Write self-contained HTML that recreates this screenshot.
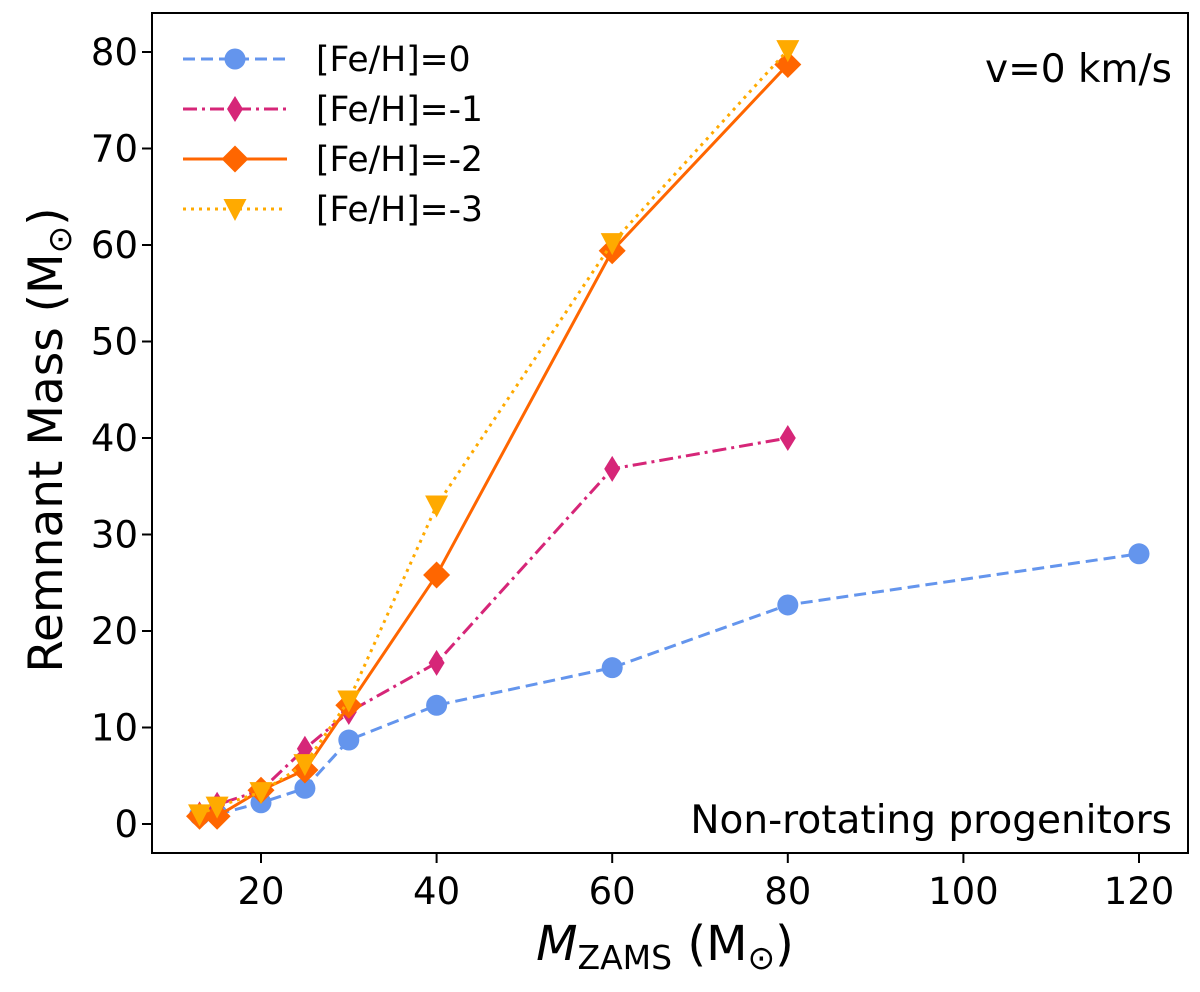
<!DOCTYPE html>
<html><head><meta charset="utf-8"><style>body{margin:0;background:#fff}svg{display:block;font-family:"DejaVu Sans","Liberation Sans",sans-serif}</style></head>
<body>
<svg id="chart" width="1200" height="992"></svg>
<script>
const massesFull=[13,15,20,25,30,40,60,80,120];
const masses80=[13,15,20,25,30,40,60,80];
const fe0=[0.9,1.0,2.2,3.7,8.7,12.3,16.2,22.7,28.0];
const fe1=[1.0,2.0,3.5,7.8,11.6,16.7,36.8,40.0];
const fe2=[0.8,0.8,3.5,5.6,12.3,25.8,59.4,78.7];
const fe3=[1.0,1.8,3.3,6.2,12.8,33.0,60.2,80.2];
const xTicks=[20,40,60,80,100,120];
const yTicks=[0,10,20,30,40,50,60,70,80];
const NS='http://www.w3.org/2000/svg';
const svg=document.getElementById('chart');
const L=152,R=1188,T=13,B=853;
const X=v=>261+(v-20)*8.78;
const Y=v=>824-v*9.65;
function mk(tag,at,parent){const e=document.createElementNS(NS,tag);for(const k in at)e.setAttribute(k,at[k]);(parent||svg).appendChild(e);return e;}
xTicks.forEach(t=>{const g=mk('g',{});


mk('line',{x1:X(t),x2:X(t),y1:B,y2:B+10,stroke:'#000','stroke-width':2},g);
const tx=mk('text',{x:X(t),y:B+51,'text-anchor':'middle','font-size':37},g);tx.textContent=t;});
yTicks.forEach(t=>{const g=mk('g',{});


mk('line',{x1:L-10,x2:L,y1:Y(t),y2:Y(t),stroke:'#000','stroke-width':2},g);
const tx=mk('text',{x:L-14,y:Y(t)+13,'text-anchor':'end','font-size':37},g);tx.textContent=t;});
function marker(type,x,y,c,g){
 if(type==='circle')return mk('circle',{cx:x,cy:y,r:10.5,fill:c},g);
 if(type==='thin')return mk('polygon',{points:`${x},${y-13} ${x+8},${y} ${x},${y+13} ${x-8},${y}`,fill:c},g);
 if(type==='diamond')return mk('polygon',{points:`${x},${y-13.5} ${x+13.5},${y} ${x},${y+13.5} ${x-13.5},${y}`,fill:c},g);
 return mk('polygon',{points:`${x-11.5},${y-10} ${x+11.5},${y-10} ${x},${y+12}`,fill:c},g);
}
const series=[
 {name:'fe0',xs:massesFull,ys:fe0,c:'#6495ed',dash:'12,6',m:'circle',label:'[Fe/H]=0'},
 {name:'fe-1',xs:masses80,ys:fe1,c:'#d62678',dash:'14,5,3,5',m:'thin',label:'[Fe/H]=-1'},
 {name:'fe-2',xs:masses80,ys:fe2,c:'#ff6600',dash:'',m:'diamond',label:'[Fe/H]=-2'},
 {name:'fe-3',xs:masses80,ys:fe3,c:'#ffaa00',dash:'3,5',m:'tri',label:'[Fe/H]=-3'}];
series.forEach((s,i)=>{const g=mk('g',{});


const pl=mk('polyline',{points:s.xs.map((x,j)=>X(x)+','+Y(s.ys[j])).join(' '),fill:'none',stroke:s.c,'stroke-width':3,'stroke-dasharray':s.dash},g);


s.xs.forEach((x,j)=>{const p=marker(s.m,X(x),Y(s.ys[j]),s.c,g);

});
const ly=59+i*50;const lg=mk('g',{});


mk('line',{x1:183,x2:287,y1:ly,y2:ly,stroke:s.c,'stroke-width':3,'stroke-dasharray':s.dash},lg);
marker(s.m,235,ly,s.c,lg);
const t=mk('text',{x:316,y:ly+12,'font-size':34.5},lg);t.textContent=s.label;});
</script>
<svg width="1200" height="992" style="position:absolute;left:0;top:0;font-family:'DejaVu Sans','Liberation Sans',sans-serif">
<rect x="152" y="13" width="1036" height="840" fill="none" stroke="#000" stroke-width="2"/>
<text x="1172" y="82" text-anchor="end" font-size="39">v=0 km/s</text>
<text x="1172" y="833" text-anchor="end" font-size="39">Non-rotating progenitors</text>
<text x="665" y="960" text-anchor="middle" font-size="48"><tspan font-style="italic">M</tspan><tspan font-size="33" dy="9">ZAMS</tspan><tspan dy="-9"> (M</tspan><tspan font-size="33" dy="9">⊙</tspan><tspan dy="-9">)</tspan></text>
<text transform="translate(62,440) rotate(-90)" text-anchor="middle" font-size="47">Remnant Mass (M<tspan font-size="33" dy="9">⊙</tspan><tspan dy="-9">)</tspan></text>
</svg>
</body></html>
